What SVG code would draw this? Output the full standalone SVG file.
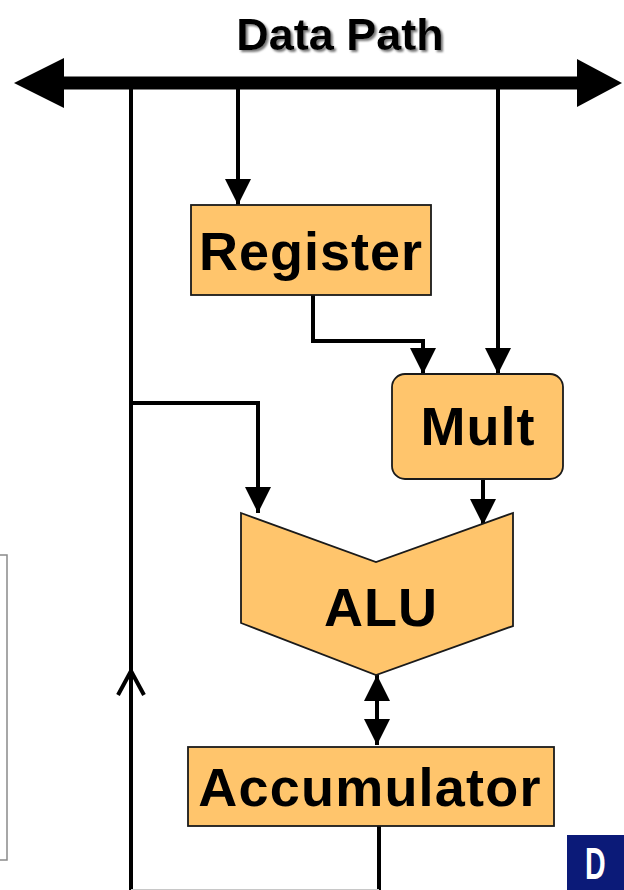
<svg xmlns="http://www.w3.org/2000/svg" width="624" height="890" viewBox="0 0 624 890">
<defs>
<style>
.box{fill:#FFC56C;stroke:#1a1a1a;stroke-width:1.8}
.lbl{font-family:"Liberation Sans",Arial,sans-serif;font-weight:bold;font-size:54px;fill:#000;text-anchor:middle}
.ln{fill:none;stroke:#000;stroke-width:4}
</style>
<marker id="ah" markerUnits="userSpaceOnUse" markerWidth="28" markerHeight="26" refX="26" refY="13" orient="auto">
<path d="M0,0 L26,13 L0,26 Z" fill="#000"/>
</marker>
<marker id="ahs" markerUnits="userSpaceOnUse" markerWidth="28" markerHeight="26" refX="26" refY="13" orient="auto-start-reverse">
<path d="M0,0 L26,13 L0,26 Z" fill="#000"/>
</marker>
<filter id="sh" x="-10%" y="-20%" width="130%" height="150%">
<feDropShadow dx="2" dy="2" stdDeviation="0.8" flood-color="#777"/>
</filter>
</defs>
<rect width="624" height="890" fill="#fff"/>

<g id="side-panel">
<rect x="-6" y="555" width="13" height="305" fill="none" stroke="#8a8a8a" stroke-width="1.5"/>
</g>

<g id="title">
<text x="340" y="50" font-family="'Liberation Sans',Arial,sans-serif" font-weight="bold" font-size="45" text-anchor="middle" filter="url(#sh)">Data Path</text>
</g>

<g id="connectors">
<line x1="60" y1="83" x2="580" y2="83" stroke="#000" stroke-width="13"/>
<polygon points="14,83 64,58 64,108" fill="#000"/>
<polygon points="622,83 577,59 577,107" fill="#000"/>
<line class="ln" x1="131" y1="83" x2="131" y2="890"/>
<polyline points="118,695 131,671 144,695" fill="none" stroke="#000" stroke-width="4"/>
<line class="ln" x1="238" y1="89" x2="238" y2="205" marker-end="url(#ah)"/>
<path class="ln" d="M313,295 V341 H423 V374" marker-end="url(#ah)"/>
<line class="ln" x1="498" y1="89" x2="498" y2="374" marker-end="url(#ah)"/>
<path class="ln" d="M131,403 H258 V513" marker-end="url(#ah)"/>
<line class="ln" x1="483" y1="479" x2="483" y2="525" marker-end="url(#ah)"/>
<line class="ln" x1="377" y1="675" x2="377" y2="745" marker-start="url(#ahs)" marker-end="url(#ahs)"/>
<line class="ln" x1="379" y1="826" x2="379" y2="890"/>
<line x1="131" y1="889.5" x2="379" y2="889.5" stroke="#c8c8c8" stroke-width="1"/>
</g>

<g id="register">
<rect class="box" x="191" y="205" width="240" height="90"/>
<text class="lbl" x="311" y="270" letter-spacing="1">Register</text>
</g>

<g id="mult">
<rect class="box" x="392" y="374" width="171" height="105" rx="13" ry="13"/>
<text class="lbl" x="478" y="445" letter-spacing="1">Mult</text>
</g>

<g id="alu">
<polygon class="box" points="241,513 376,562 513,513 513,626 376,675 241,623"/>
<text class="lbl" x="381" y="626" letter-spacing="1">ALU</text>
</g>

<g id="accumulator">
<rect class="box" x="188" y="747" width="366" height="79"/>
<text class="lbl" x="370" y="806" letter-spacing="1.2">Accumulator</text>
</g>

<g id="logo">
<rect x="567" y="835" width="60" height="60" fill="#0b1a78"/>
<text x="0" y="0" transform="translate(585,879) scale(0.65,1)" font-family="'Liberation Sans',Arial,sans-serif" font-weight="bold" font-size="44" fill="#fff">D</text>
</g>
</svg>
